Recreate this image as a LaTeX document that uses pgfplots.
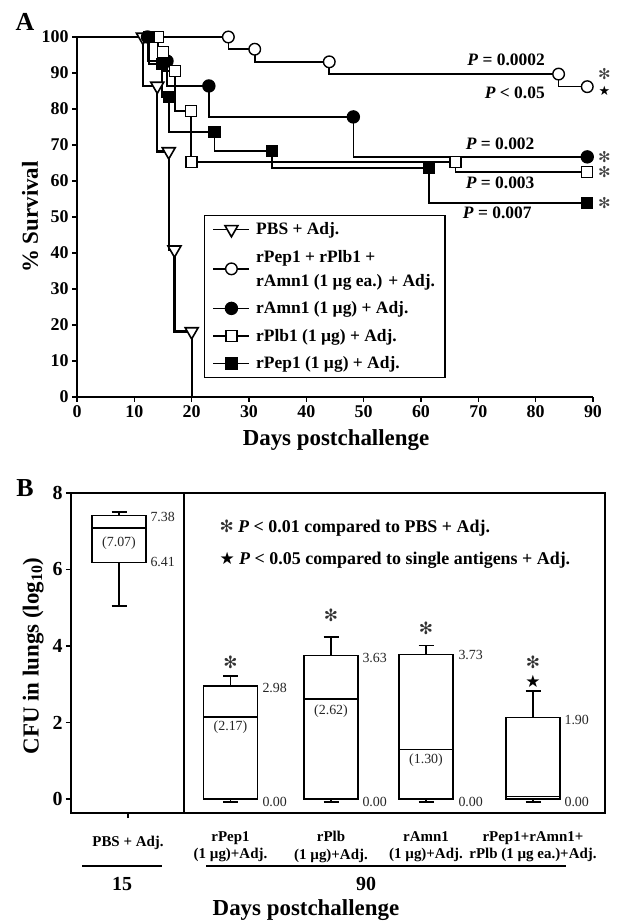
\documentclass[border=0pt]{standalone}
\usepackage{pgfplots}
\pgfplotsset{compat=1.18}
\usepackage{pgfplotstable}
\usepgfplotslibrary{statistics}
\usepackage{fontspec}
\setmainfont{Liberation Serif}
\newfontfamily\symfont{DejaVu Sans}
\newcommand{\fs}[1]{\fontsize{#1}{#1}\selectfont}

% Kaplan-Meier curves (day, % survival); marks at the end of each step
\pgfplotstableread{
day surv
0 100
11.5 100
14 86.4
16 68.2
17 40.9
20 18.2
20 0
}\pbsdata
\pgfplotstableread{
day surv
0 100
26.4 100
31 96.6
44 93.1
84 89.7
89 86.2
}\combo
\pgfplotstableread{
day surv
0 100
12.3 100
15.7 93.3
23 86.4
48.2 77.8
89 66.7
}\ramn
\pgfplotstableread{
day surv
0 100
14.1 100
15 95.8
17.1 90.6
19.9 79.4
20 65.3
66 65.3
89 62.5
}\rplb
\pgfplotstableread{
day surv
0 100
12.6 100
14.8 92.5
16 83.3
24 73.6
34 68.4
61.4 63.6
89 53.9
}\rpep

\pgfplotsset{
  kmline/.style={draw=black, solid, line width=1.6bp, const plot mark right, mark=none, forget plot},
  kmark/.style={black, solid, only marks, mark size=#1},
  bx/.style={black, solid, line width=1.5bp, mark=none,
    boxplot/box extend=0.54, boxplot/whisker extend=0.15},
}

\begin{document}
\begin{tikzpicture}
\path[use as bounding box] (0,0) rectangle (620bp,923bp);

% ---------------- panel A
\begin{axis}[
  at={(77bp,526bp)}, anchor=south west,
  scale only axis, width=516bp, height=360bp,
  xmin=0, xmax=90, ymin=0, ymax=100,
  axis lines=left, axis line style={-, line width=1.6bp},
  xtick={0,10,...,90}, ytick={0,10,...,100},
  tick align=outside, major tick length=5bp,
  tick style={black, line width=1.4bp},
  ticklabel style={font=\bfseries\fs{18}},
  /pgf/number format/assume math mode=true,
  xlabel={Days postchallenge}, ylabel={\% Survival},
  every axis x label/.style={at={(rel axis cs:0.502,-0.119)}, anchor=center, font=\bfseries\fs{23}},
  every axis y label/.style={at={(rel axis cs:-0.091,0.5)}, rotate=90, anchor=center, font=\bfseries\fs{23}},
  clip=false,
  legend cell align=left,
  legend image code/.code={%
    \draw[solid, draw=black, line width=1.6bp] (0bp,0bp) -- (36bp,0bp);
    \draw plot coordinates {(18bp,0bp)};},
  legend style={at={(rel axis cs:0.246,0.506)}, anchor=north west,
    draw=black, line width=1.4bp, font=\bfseries\fontsize{17.5}{24}\selectfont,
    cells={align=left}, row sep=10bp, inner xsep=8bp, inner ysep=5bp,
    /tikz/every odd column/.append style={column sep=4bp}},
]
\addplot[kmline] table {\combo};
\addplot[kmline] table {\ramn};
\addplot[kmline] table {\rplb};
\addplot[kmline] table {\rpep};
\addplot[kmline, line width=2.2bp] table {\pbsdata};

\addplot[kmark=7.5bp, mark=triangle*,
  mark options={solid, line width=1.6bp, draw=black, fill=white, rotate=180},
  skip coords between index={0}{1}, skip coords between index={6}{7}] table {\pbsdata};
\addlegendentry{PBS + Adj.}
\addplot[kmark=5.8bp, mark=*,
  mark options={solid, line width=1.4bp, draw=black, fill=white},
  skip coords between index={0}{1}] table {\combo};
\addlegendentry{rPep1 + rPlb1 +\\rAmn1 (1 µg ea.) + Adj.}
\addplot[kmark=6bp, mark=*,
  mark options={solid, line width=1.4bp, draw=black, fill=black},
  skip coords between index={0}{1}] table {\ramn};
\addlegendentry{rAmn1 (1 µg) + Adj.}
\addplot[kmark=5.5bp, mark=square*,
  mark options={solid, line width=1.4bp, draw=black, fill=white},
  skip coords between index={0}{1}] table {\rplb};
\addlegendentry{rPlb1 (1 µg) + Adj.}
\addplot[kmark=5.5bp, mark=square*,
  mark options={solid, line width=1.4bp, draw=black, fill=black},
  skip coords between index={0}{1}] table {\rpep};
\addlegendentry{rPep1 (1 µg) + Adj.}

\begin{scope}[every node/.style={anchor=east, font=\bfseries\fs{17.5}}]
\node at (axis cs:82.2,93.6) {\textit{P} = 0.0002};
\node at (axis cs:82.2,84.4) {\textit{P} < 0.05};
\node at (axis cs:80.4,70.3) {\textit{P} = 0.002};
\node at (axis cs:80.4,59.4) {\textit{P} = 0.003};
\node at (axis cs:79.9,51.1) {\textit{P} = 0.007};
\end{scope}
\begin{scope}[every node/.style={font=\symfont\fs{15}, inner sep=0pt, black!75}]
\node at (axis cs:92,89.6) {✻};
\node[font=\symfont\fs{13}, black] at (axis cs:92,85.0) {★};
\node at (axis cs:92,66.7) {✻};
\node at (axis cs:92,62.5) {✻};
\node at (axis cs:92,53.9) {✻};
\end{scope}
\end{axis}
\node[font=\bfseries\fs{26}] at (25bp,901bp) {A};

% ---------------- panel B
\begin{axis}[
  at={(71bp,110bp)}, anchor=south west,
  scale only axis, width=534bp, height=320bp,
  xmin=-0.57, xmax=4.77, ymin=-0.366, ymax=8,
  axis line style={line width=1.6bp},
  ytick={0,2,4,6,8}, ytick pos=left, xtick pos=bottom,
  xtick={0}, xticklabels={PBS + Adj.},
  extra x ticks={1.025,2.03,2.98,4.05},
  extra x tick labels={{rPep1\\(1 µg)+Adj.},{rPlb\\(1 µg)+Adj.},{rAmn1\\(1 µg)+Adj.},{rPep1+rAmn1+\\rPlb (1 µg ea.)+Adj.}},
  extra x tick style={major tick length=0pt},
  tick align=outside, major tick length=5bp,
  tick style={black, line width=1.4bp},
  yticklabel style={font=\bfseries\fs{20}},
  xticklabel style={font=\bfseries\fontsize{15}{17.5}\selectfont, align=center, anchor=north, yshift=-15bp},
  /pgf/number format/assume math mode=true,
  boxplot/draw direction=y,
  ylabel={CFU in lungs (log\raisebox{-0.35ex}{\fs{16}10})},
  every axis y label/.style={at={(rel axis cs:-0.071,0.49)}, rotate=90, anchor=center, font=\bfseries\fs{23}},
  xlabel={Days postchallenge},
  every axis x label/.style={at={(rel axis cs:0.44,-0.302)}, anchor=center, font=\bfseries\fs{23}},
  clip=false,
]
% CFU box plots (log10): lower whisker, quartiles, median, upper whisker
\addplot[bx, boxplot prepared={draw position=-0.09, lower whisker=5.05,
  lower quartile=6.18, median=7.08, upper quartile=7.41, upper whisker=7.50}] coordinates {};
\addplot[bx, boxplot prepared={draw position=1.025, lower whisker=-0.08,
  lower quartile=0, median=2.15, upper quartile=2.96, upper whisker=3.22}] coordinates {};
\addplot[bx, boxplot prepared={draw position=2.03, lower whisker=-0.08,
  lower quartile=0, median=2.61, upper quartile=3.75, upper whisker=4.24}] coordinates {};
\addplot[bx, boxplot prepared={draw position=2.98, lower whisker=-0.08,
  lower quartile=0, median=1.30, upper quartile=3.78, upper whisker=4.01}] coordinates {};
\addplot[bx, boxplot prepared={draw position=4.05, lower whisker=-0.08,
  lower quartile=0, median=0.06, upper quartile=2.13, upper whisker=2.82}] coordinates {};

\draw[line width=1.6bp] (axis cs:0.56,-0.366) -- (axis cs:0.56,8);

\begin{scope}[every node/.style={font=\fs{14}, black!85}]
\node[anchor=west] at (axis cs:0.19,7.37) {7.38};
\node[anchor=west] at (axis cs:0.19,6.2) {6.41};
\node at (axis cs:-0.09,6.69) {(7.07)};
\node[anchor=west] at (axis cs:1.31,2.90) {2.98};
\node at (axis cs:1.025,1.88) {(2.17)};
\node[anchor=west] at (axis cs:2.31,3.69) {3.63};
\node at (axis cs:2.03,2.30) {(2.62)};
\node[anchor=west] at (axis cs:3.27,3.76) {3.73};
\node at (axis cs:2.98,1.02) {(1.30)};
\node[anchor=west] at (axis cs:4.33,2.07) {1.90};
\node[anchor=west] at (axis cs:1.31,-0.08) {0.00};
\node[anchor=west] at (axis cs:2.31,-0.08) {0.00};
\node[anchor=west] at (axis cs:3.27,-0.08) {0.00};
\node[anchor=west] at (axis cs:4.33,-0.08) {0.00};
\end{scope}
\begin{scope}[every node/.style={font=\symfont\fs{17}, inner sep=0pt, black!80}]
\node at (axis cs:1.025,3.58) {✻};
\node at (axis cs:2.03,4.79) {✻};
\node at (axis cs:2.98,4.45) {✻};
\node at (axis cs:4.05,3.58) {✻};
\node[font=\symfont\fs{17}, black] at (axis cs:4.05,3.08) {★};
\end{scope}
\node[anchor=west, font=\bfseries\fs{18}] at (axis cs:0.88,7.08) {{\symfont\fs{17}\color{black!80}✻} \textit{P} < 0.01 compared to PBS + Adj.};
\node[anchor=west, font=\bfseries\fs{18}] at (axis cs:0.88,6.25) {{\symfont\fs{17}★} \textit{P} < 0.05 compared to single antigens + Adj.};

\draw[line width=1.4bp] (axis cs:-0.46,-1.75) -- (axis cs:0.34,-1.75);
\draw[line width=1.4bp] (axis cs:0.78,-1.75) -- (axis cs:4.38,-1.75);
\node[font=\bfseries\fs{20}] at (axis cs:-0.06,-2.22) {15};
\node[font=\bfseries\fs{20}] at (axis cs:2.38,-2.22) {90};
\end{axis}
\node[font=\bfseries\fs{26}] at (25bp,435bp) {B};
\end{tikzpicture}
\end{document}
